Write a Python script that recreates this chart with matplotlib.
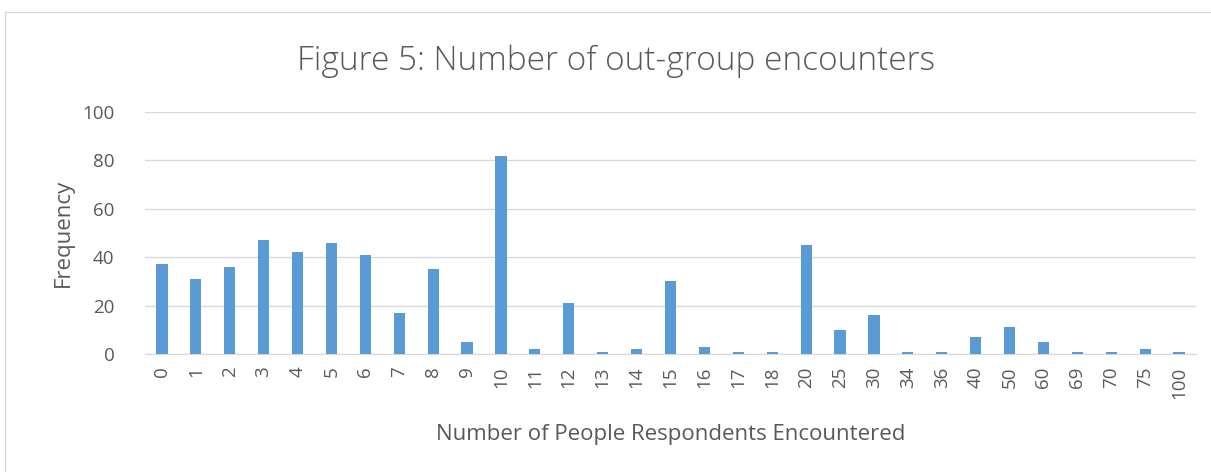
import matplotlib
matplotlib.use("Agg")
import matplotlib.pyplot as plt
from matplotlib.patches import Rectangle

categories = ["0", "1", "2", "3", "4", "5", "6", "7", "8", "9", "10", "11", "12", "13", "14", "15",
              "16", "17", "18", "20", "25", "30", "34", "36", "40", "50", "60", "69", "70", "75", "100"]
frequency = [37, 31, 36, 47, 42, 46, 41, 17, 35, 5, 82, 2, 21, 1, 2, 30,
             3, 1, 1, 45, 10, 16, 1, 1, 7, 11, 5, 1, 1, 2, 1]
y_ticks = [0, 20, 40, 60, 80, 100]

plt.rcParams['font.family'] = ['Open Sans', 'DejaVu Sans']
txt = '#595959'

fig = plt.figure(figsize=(12.11, 4.72), dpi=100)
fig.patches.append(Rectangle((5/1211, -0.1), 1.2, 1 - 12/472 + 0.1, transform=fig.transFigure,
                             fill=False, edgecolor='#d9d9d9', linewidth=1))
ax = fig.add_axes([145/1211, 1 - 354/472, (1196 - 145)/1211, (354 - 112)/472])

x = list(range(len(categories)))
ax.bar(x, frequency, width=0.33, color='#5b9bd5', zorder=3)
ax.set_xlim(-0.5, len(categories) - 0.5)
ax.set_ylim(0, 100)
ax.set_yticks(y_ticks)
ax.set_xticks(x)
ax.set_xticklabels(categories, rotation=90, fontsize=13.5, color=txt)
ax.tick_params(axis='y', labelsize=13.5, labelcolor=txt, length=0, pad=22)
ax.tick_params(axis='x', length=0, pad=9)
ax.grid(axis='y', color='#d9d9d9', linewidth=1, zorder=0)
for s in ['top', 'right', 'left']:
    ax.spines[s].set_visible(False)
ax.spines['bottom'].set_color('#d9d9d9')
ax.set_ylabel('Frequency', fontsize=16, color=txt, labelpad=6)
ax.set_xlabel('Number of People Respondents Encountered', fontsize=16, color=txt, labelpad=18)
fig.text(0.5085, 1 - 61/472, 'Figure 5: Number of out-group encounters', ha='center', va='center',
         fontsize=24, color=txt, fontweight='light')

fig.savefig('out.png', dpi=100)
